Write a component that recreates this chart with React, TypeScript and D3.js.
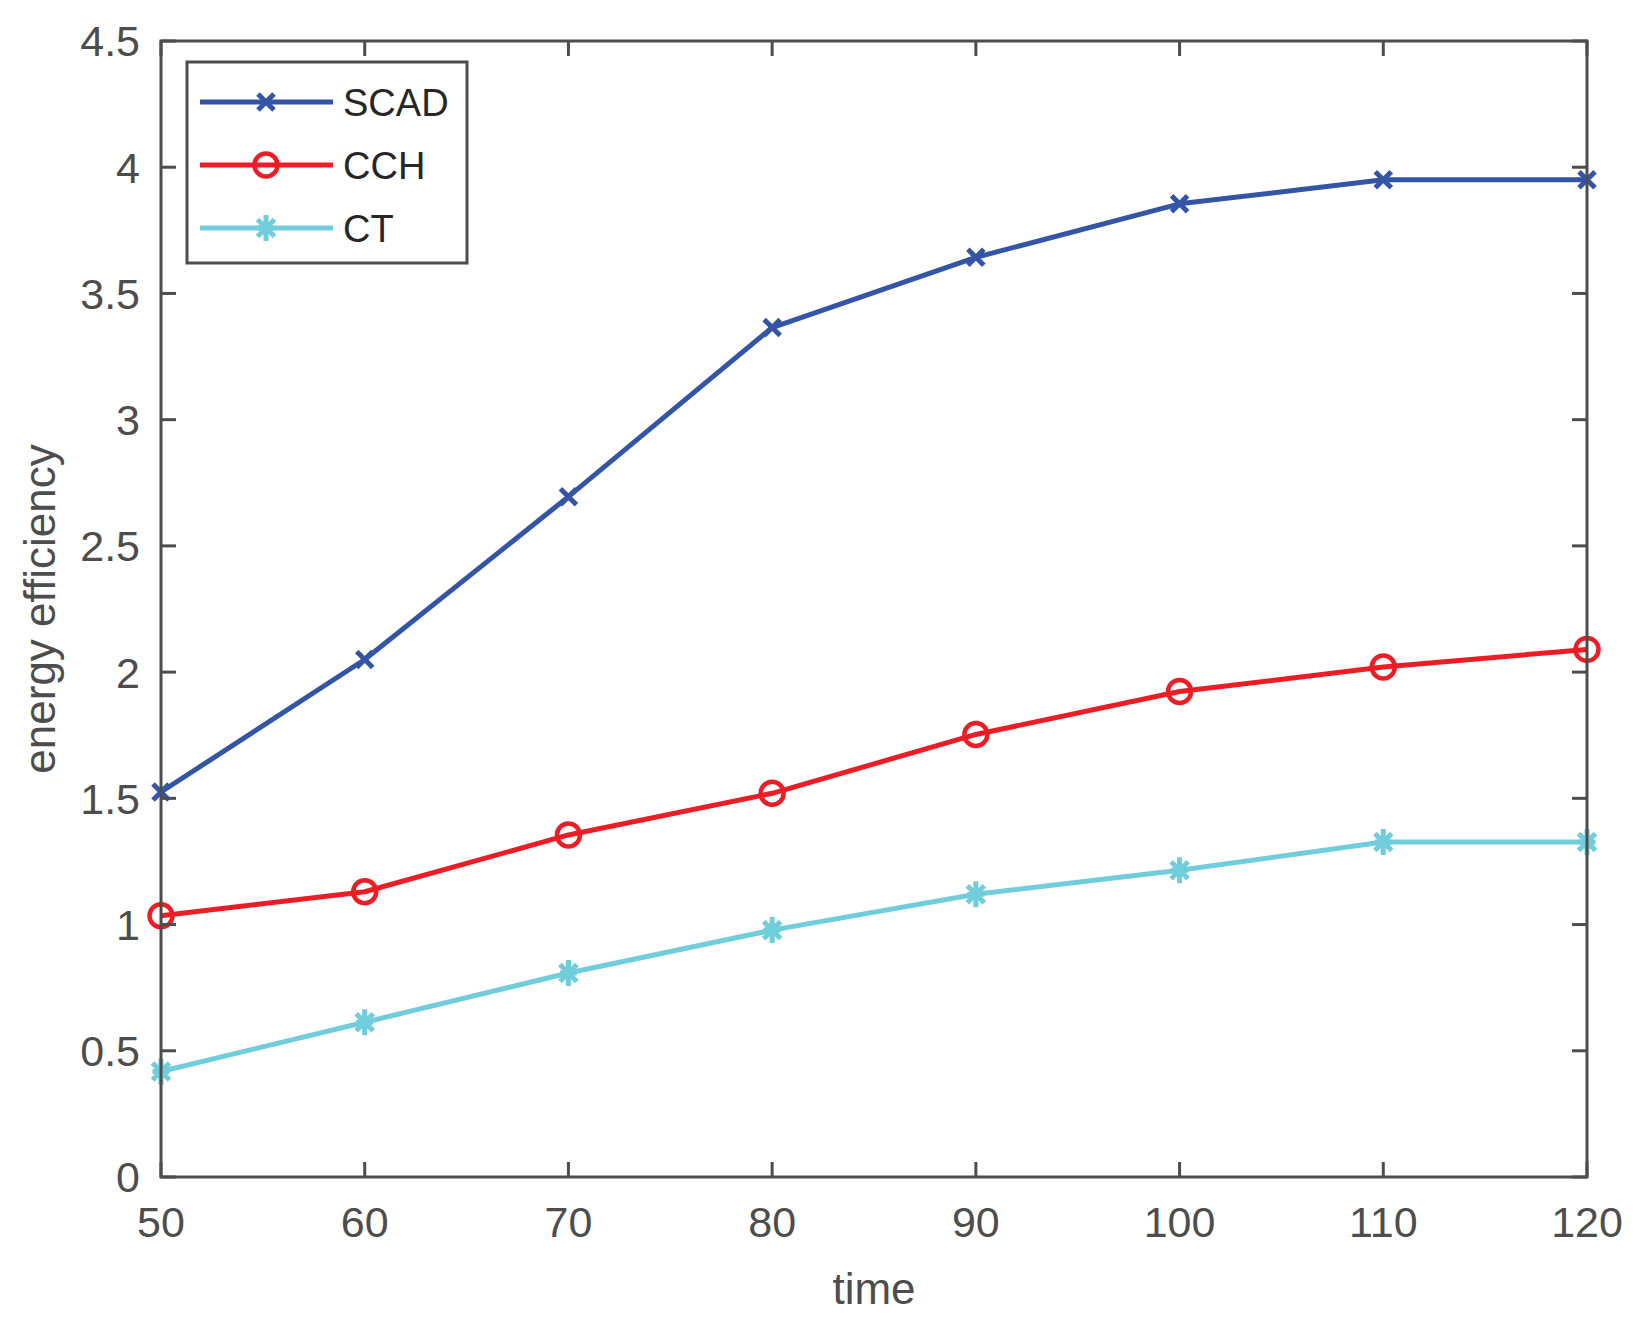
import { useEffect, useRef } from 'react';
import * as d3 from 'd3';

// values
const times = [50, 60, 70, 80, 90, 100, 110, 120];
const scadValues = [1.525, 2.05, 2.695, 3.365, 3.643, 3.855, 3.95, 3.95];
const cchValues = [1.035, 1.13, 1.355, 1.52, 1.753, 1.923, 2.02, 2.09];
const ctValues = [0.418, 0.613, 0.808, 0.978, 1.12, 1.215, 1.327, 1.327];

const xTicks = [50, 60, 70, 80, 90, 100, 110, 120];
const yTicks = [0, 0.5, 1, 1.5, 2, 2.5, 3, 3.5, 4, 4.5];

const seriesNames = ['SCAD', 'CCH', 'CT'];
const seriesColors = ['#3455a6', '#ee1c25', '#70cddb'];
const seriesMarkers = ['x', 'o', '*'];

const WIDTH = 1645;
const HEIGHT = 1329;
const FONT = '"Liberation Sans", Arial, Helvetica, sans-serif';
const AXIS_COLOR = '#4d4d4d';

function markerPath(type: string, cx: number, cy: number) {
  const p = d3.path();
  if (type === 'x') {
    const r = 8;
    p.moveTo(cx - r, cy - r); p.lineTo(cx + r, cy + r);
    p.moveTo(cx - r, cy + r); p.lineTo(cx + r, cy - r);
  } else if (type === 'o') {
    p.arc(cx, cy, 11.5, 0, 2 * Math.PI);
  } else {
    const r = 13;
    const d = 8.5;
    p.moveTo(cx, cy - r); p.lineTo(cx, cy + r);
    p.moveTo(cx - d, cy - d); p.lineTo(cx + d, cy + d);
    p.moveTo(cx - d, cy + d); p.lineTo(cx + d, cy - d);
    p.moveTo(cx - d, cy); p.lineTo(cx + d, cy);
  }
  return p.toString();
}

export default function App() {
  const svgRef = useRef<SVGSVGElement>(null);

  useEffect(() => {
    if (!svgRef.current) return;
    document.body.style.margin = '0';

    const left = 161, right = 1587, top = 41, bottom = 1177;

    const x = d3.scaleLinear().domain([50, 120]).range([left, right]);
    const y = d3.scaleLinear().domain([0, 4.5]).range([bottom, top]);

    const svg = d3.select(svgRef.current);
    svg.selectAll('*').remove();
    svg.attr('width', WIDTH).attr('height', HEIGHT);

    svg.append('rect').attr('width', WIDTH).attr('height', HEIGHT).attr('fill', '#fff');

    // series lines and markers
    const allSeries = [scadValues, cchValues, ctValues];
    allSeries.forEach((vals, i) => {
      const line = d3.line<number>()
        .x((_, j) => x(times[j]))
        .y(d => y(d));
      const g = svg.append('g');
      g.append('path')
        .attr('d', line(vals))
        .attr('fill', 'none')
        .attr('stroke', seriesColors[i])
        .attr('stroke-width', 5)
        .attr('stroke-linejoin', 'round');
      g.selectAll('path.marker')
        .data(vals)
        .enter()
        .append('path')
        .attr('class', 'marker')
        .attr('d', (d, j) => markerPath(seriesMarkers[i], x(times[j]), y(d)))
        .attr('fill', 'none')
        .attr('stroke', seriesColors[i])
        .attr('stroke-width', seriesMarkers[i] === 'o' ? 4.5 : 5);
    });

    // axes box
    const axes = svg.append('g');
    axes.append('rect')
      .attr('x', left).attr('y', top)
      .attr('width', right - left).attr('height', bottom - top)
      .attr('fill', 'none')
      .attr('stroke', AXIS_COLOR)
      .attr('stroke-width', 3);

    const tickLen = 15;
    xTicks.forEach(t => {
      axes.append('line')
        .attr('x1', x(t)).attr('x2', x(t))
        .attr('y1', bottom).attr('y2', bottom - tickLen)
        .attr('stroke', AXIS_COLOR).attr('stroke-width', 3);
      axes.append('line')
        .attr('x1', x(t)).attr('x2', x(t))
        .attr('y1', top).attr('y2', top + tickLen)
        .attr('stroke', AXIS_COLOR).attr('stroke-width', 3);
      axes.append('text')
        .attr('x', x(t)).attr('y', 1237)
        .attr('text-anchor', 'middle')
        .attr('font-family', FONT).attr('font-size', 43)
        .attr('fill', AXIS_COLOR)
        .text(String(t));
    });

    yTicks.forEach(t => {
      axes.append('line')
        .attr('x1', left).attr('x2', left + tickLen)
        .attr('y1', y(t)).attr('y2', y(t))
        .attr('stroke', AXIS_COLOR).attr('stroke-width', 3);
      axes.append('line')
        .attr('x1', right).attr('x2', right - tickLen)
        .attr('y1', y(t)).attr('y2', y(t))
        .attr('stroke', AXIS_COLOR).attr('stroke-width', 3);
      axes.append('text')
        .attr('x', 140).attr('y', y(t))
        .attr('dy', '0.36em')
        .attr('text-anchor', 'end')
        .attr('font-family', FONT).attr('font-size', 43)
        .attr('fill', AXIS_COLOR)
        .text(String(t));
    });

    // axis labels
    svg.append('text')
      .attr('x', (left + right) / 2).attr('y', 1304)
      .attr('text-anchor', 'middle')
      .attr('font-family', FONT).attr('font-size', 44)
      .attr('fill', AXIS_COLOR)
      .text('time');

    svg.append('text')
      .attr('transform', `translate(55,${(top + bottom) / 2}) rotate(-90)`)
      .attr('text-anchor', 'middle')
      .attr('font-family', FONT).attr('font-size', 44)
      .attr('fill', AXIS_COLOR)
      .text('energy efficiency');

    // legend
    const legend = svg.append('g');
    legend.append('rect')
      .attr('x', 187).attr('y', 62)
      .attr('width', 280).attr('height', 201)
      .attr('fill', '#fff')
      .attr('stroke', AXIS_COLOR)
      .attr('stroke-width', 3);

    const rowY = d3.scalePoint<string>().domain(seriesNames).range([102, 228]);
    seriesNames.forEach((name, i) => {
      const ry = rowY(name) as number;
      legend.append('line')
        .attr('x1', 200).attr('x2', 333)
        .attr('y1', ry).attr('y2', ry)
        .attr('stroke', seriesColors[i]).attr('stroke-width', 5);
      legend.append('path')
        .attr('d', markerPath(seriesMarkers[i], 266, ry))
        .attr('fill', 'none')
        .attr('stroke', seriesColors[i])
        .attr('stroke-width', seriesMarkers[i] === 'o' ? 4.5 : 5);
      legend.append('text')
        .attr('x', 343).attr('y', ry)
        .attr('dy', '0.36em')
        .attr('font-family', FONT).attr('font-size', 38)
        .attr('fill', '#262626')
        .text(name);
    });
  }, []);

  return <svg ref={svgRef} style={{ display: 'block' }} />;
}
